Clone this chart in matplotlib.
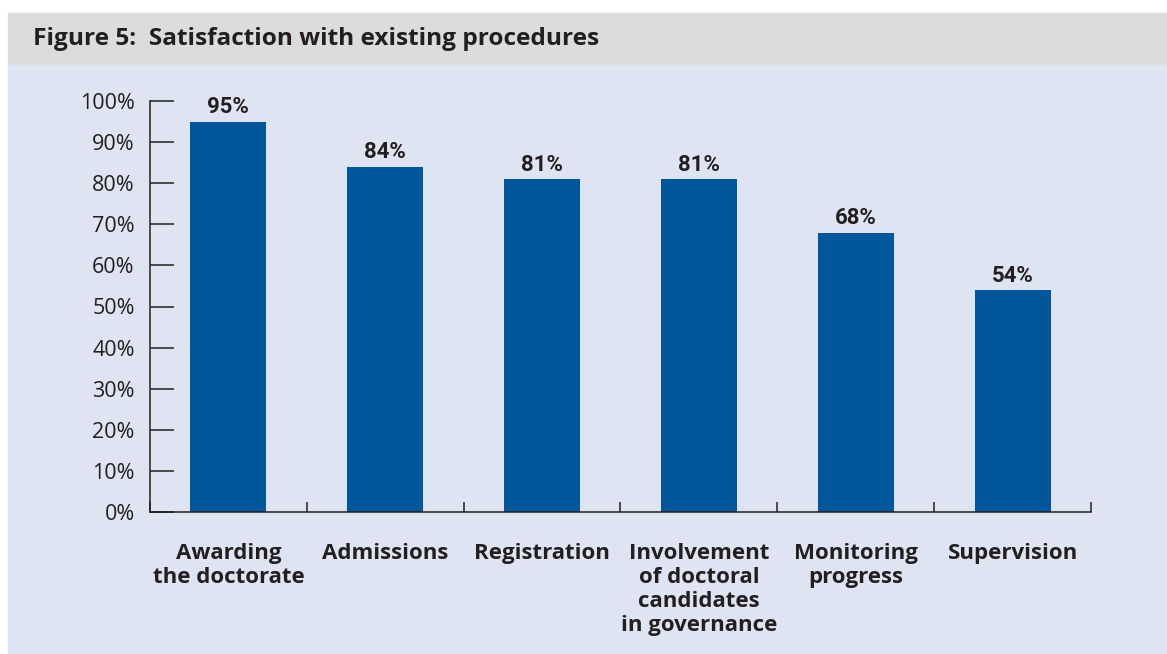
import numpy as np
from matplotlib import pyplot as plt
from matplotlib.patches import Rectangle

categories = ['Awarding\nthe doctorate', 'Admissions', 'Registration',
              'Involvement\nof doctoral\ncandidates\nin governance',
              'Monitoring\nprogress', 'Supervision']
values = [95, 84, 81, 81, 68, 54]
yticks = [0, 10, 20, 30, 40, 50, 60, 70, 80, 90, 100]

bar_col = '#02569b'
ink = '#231f20'
W, H = 1167, 654

fig = plt.figure(figsize=(W / 100, H / 100), dpi=100, facecolor='white')

# title band and panel background
fig.patches.append(Rectangle((8 / W, 1 - 65 / H), 1 - 8 / W, 52 / H,
                             transform=fig.transFigure, color='#dcdcdc', zorder=-2))
fig.patches.append(Rectangle((8 / W, 0), 1 - 8 / W, 1 - 65 / H,
                             transform=fig.transFigure, color='#dfe4f2', zorder=-2))
fig.text(33 / W, 1 - 39 / H, 'Figure 5:  Satisfaction with existing procedures',
         family='Open Sans', weight='bold', size=17.6, color=ink, va='center')

ax = fig.add_axes([150 / W, 1 - 512 / H, (1091 - 150) / W, (512 - 101) / H])
ax.set_facecolor('none')

x = np.arange(len(values))
ax.bar(x, values, width=0.485, color=bar_col, zorder=2)
for xi, v in zip(x, values):
    ax.annotate(f'{v}%', xy=(xi, v), xytext=(0, 2.5), textcoords='offset points',
                ha='center', va='bottom', family='Roboto',
                weight='bold', size=16, color=ink)

ax.set_xlim(-0.5, len(values) - 0.5)
ax.set_ylim(0, 100)
for s in ['top', 'right']:
    ax.spines[s].set_visible(False)
for s in ['left', 'bottom']:
    ax.spines[s].set_color(ink)
    ax.spines[s].set_linewidth(1.1)

ax.set_yticks(yticks)
ax.set_yticklabels([f'{t}%' for t in yticks], family='Open Sans', size=15.5, color=ink)
ax.tick_params(axis='y', direction='in', length=17, width=1.1, color=ink, pad=11)

ax.set_xticks(np.arange(-0.5, len(values)), minor=True)
ax.set_xticks(x)
ax.set_xticklabels(categories, family='Open Sans', weight='bold', size=16,
                   color=ink, linespacing=1.2, va='top')
ax.tick_params(axis='x', which='major', length=0, pad=22)
ax.tick_params(axis='x', which='minor', direction='in', length=7, width=1.1, color=ink)

plt.savefig('out.png', dpi=100)
